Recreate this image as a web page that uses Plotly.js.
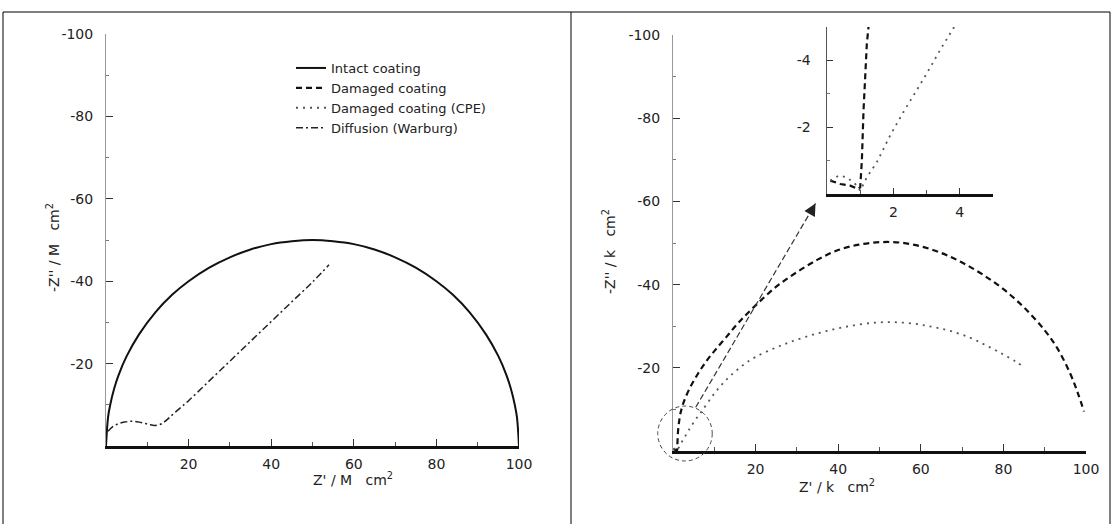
<!DOCTYPE html>
<html>
<head>
<meta charset="utf-8">
<script src="https://cdn.plot.ly/plotly-3.0.1.min.js"></script>
<style>
  html, body { margin: 0; padding: 0; background: #fff; }
  #chart { width: 1113px; height: 524px; }
</style>
</head>
<body>
<div id="chart"></div>
<script>
// Nyquist plots: Z' on x, Z'' (negative values) on a reversed y axis.

// Left panel (M-ohm cm^2)
const intactZre = [0, 0.5, 1, 2, 3, 5, 8, 12, 16, 20, 25, 30, 35, 40, 45, 50, 55, 60, 65, 70, 75, 80, 84, 88, 92, 95, 97, 98, 99, 99.5, 100];
const intactZim = [0, -7, -9.9, -14, -17.1, -21.8, -27.1, -32.5, -36.7, -40, -43.3, -45.8, -47.7, -49, -49.7, -50, -49.7, -49, -47.7, -45.8, -43.3, -40, -36.7, -32.5, -27.1, -21.8, -17.1, -14, -9.9, -7, 0];

const warburgZre = [0.5, 1.5, 3, 4.5, 6, 7.5, 9, 10.5, 11.8, 13.5, 15, 17, 20, 25, 30, 35, 40, 45, 50, 54];
const warburgZim = [-3.6, -4.6, -5.4, -5.8, -6, -5.9, -5.6, -5.2, -5, -5.4, -6.6, -8.4, -11, -15.8, -20.6, -25.4, -30.2, -35, -39.8, -44];

// Right panel (k-ohm cm^2)
const damagedZre = [0.1, 0.4, 0.7, 0.93, 1.0, 1.05, 1.1, 1.2, 1.4, 1.8, 2.5, 4, 6, 8, 10, 13, 16, 20, 25, 30, 35, 40, 45, 50, 55, 60, 65, 70, 75, 80, 85, 90, 93, 96, 98, 99.5];
const damagedZim = [-0.4, -0.3, -0.25, -0.15, -0.2, -1, -2.5, -4.5, -6.5, -9, -11.5, -15, -18.5, -21.5, -24, -27.5, -31, -35, -39.5, -43, -46, -48.3, -49.6, -50.2, -50.1, -49.2, -47.6, -45.3, -42.4, -38.9, -34.5, -29, -24.8, -19, -14, -9.5];

const cpeZre = [0.1, 0.35, 0.6, 0.85, 1.0, 1.2, 1.5, 1.9, 2.3, 2.7, 3.0, 3.4, 3.8, 4.5, 5.5, 7, 10, 13, 16.5, 20, 26, 33, 41, 49.6, 56.5, 62, 67, 72, 76, 80, 83, 84.5];
const cpeZim = [-0.4, -0.55, -0.5, -0.3, -0.1, -0.5, -0.95, -1.75, -2.45, -3.1, -3.6, -4.3, -5.0, -6.1, -7.6, -9.6, -13.8, -17.2, -20.3, -22.6, -25.3, -27.7, -29.7, -30.9, -30.8, -30, -28.9, -27.2, -25.3, -23.2, -21.5, -20.5];

// Tick values and labels
const mainXTicks = [20, 40, 60, 80, 100];
const mainXLabels = ['20', '40', '60', '80', '100'];
const mainYTicks = [-20, -40, -60, -80, -100];
const mainYLabels = ['-20', '-40', '-60', '-80', '-100'];
const insetXTicks = [2, 4];
const insetXLabels = ['2', '4'];
const insetYTicks = [-2, -4];
const insetYLabels = ['-2', '-4'];

// Magnified region marker and pointer (right panel data units)
const zoomCircle = { x: 2.9, y: -4.2, r: 6.6 };
const pointerFrom = [5.5, -10.5];
const pointerTo = [34.5, -59.5];

const seriesNames = ['Intact coating', 'Damaged coating', 'Damaged coating (CPE)', 'Diffusion (Warburg)'];

const FONT = 'DejaVu Sans, Verdana, sans-serif';
const TXT = '#222';
const W = 1113, H = 524;
const px = v => v / W;
const py = v => 1 - v / H;

const traces = [
  { x: intactZre, y: intactZim, xaxis: 'x', yaxis: 'y', name: seriesNames[0], mode: 'lines',
    line: { color: '#111', width: 2, shape: 'spline', smoothing: 1 } },
  { x: damagedZre, y: damagedZim, xaxis: 'x2', yaxis: 'y2', name: seriesNames[1], mode: 'lines',
    line: { color: '#111', width: 2.2, dash: '6px,4px', shape: 'spline', smoothing: 1 } },
  { x: cpeZre, y: cpeZim, xaxis: 'x2', yaxis: 'y2', name: seriesNames[2], mode: 'lines',
    line: { color: '#555', width: 1.8, dash: '2px,5px', shape: 'spline', smoothing: 1 } },
  { x: warburgZre, y: warburgZim, xaxis: 'x', yaxis: 'y', name: seriesNames[3], mode: 'lines',
    line: { color: '#222', width: 1.5, dash: '7px,3px,2px,3px', shape: 'spline', smoothing: 1 } },
  // magnified view of the origin
  { x: damagedZre, y: damagedZim, xaxis: 'x3', yaxis: 'y3', showlegend: false, mode: 'lines',
    line: { color: '#111', width: 2.2, dash: '6px,4px' } },
  { x: cpeZre, y: cpeZim, xaxis: 'x3', yaxis: 'y3', showlegend: false, mode: 'lines',
    line: { color: '#555', width: 1.8, dash: '2px,5px' } }
];

function mainX(domain, anchor) {
  return {
    domain: domain, anchor: anchor, range: [0, 100], fixedrange: true,
    showline: true, linecolor: '#111', linewidth: 2.5,
    showgrid: false, zeroline: false,
    ticks: 'inside', ticklen: 7, tickwidth: 1, tickcolor: '#333',
    tickmode: 'array', tickvals: mainXTicks, ticktext: mainXLabels,
    ticklabelstandoff: 4,
    minor: { dtick: 10, ticks: 'inside', ticklen: 4, tickcolor: '#555', showgrid: false },
    tickfont: { family: FONT, size: 14, color: TXT }
  };
}
function mainY(domain, anchor) {
  return {
    domain: domain, anchor: anchor, range: [0, -100], fixedrange: true,
    showline: true, linecolor: '#999', linewidth: 1,
    showgrid: false, zeroline: false,
    ticks: 'inside', ticklen: 7, tickwidth: 1, tickcolor: '#333',
    tickmode: 'array', tickvals: mainYTicks, ticktext: mainYLabels,
    ticklabelstandoff: 9,
    minor: { dtick: 10, ticks: 'inside', ticklen: 3, tickcolor: '#777', showgrid: false },
    tickfont: { family: FONT, size: 14, color: TXT }
  };
}

const insetXRange = [0, 5], insetYRange = [0, -5];

// circle in axis-domain fractions of the right panel (keeps it unclipped)
const xr2 = [0, 100], yr2 = [0, -100];
const fx = v => (v - xr2[0]) / (xr2[1] - xr2[0]);
const fy = v => (v - yr2[0]) / (yr2[1] - yr2[0]);

const lineShape = (x0, y0, x1, y1) => ({
  type: 'line', xref: 'paper', yref: 'paper', x0: px(x0), y0: py(y0), x1: px(x1), y1: py(y1),
  line: { color: '#000', width: 1 }
});

const titleFont = { family: FONT, size: 14, color: TXT };

const layout = {
  width: W, height: H,
  margin: { l: 0, r: 0, t: 0, b: 0 },
  paper_bgcolor: '#fff', plot_bgcolor: 'rgba(0,0,0,0)',
  font: { family: FONT, size: 14, color: TXT },
  showlegend: true,
  legend: {
    x: px(291), y: py(53), xanchor: 'left', yanchor: 'top',
    bgcolor: 'rgba(0,0,0,0)', borderwidth: 0,
    font: { family: FONT, size: 13, color: TXT },
    itemwidth: 30, tracegroupgap: 0
  },
  xaxis: mainX([px(106), px(519)], 'y'),
  yaxis: mainY([py(446), py(34)], 'x'),
  xaxis2: mainX([px(673), px(1086)], 'y2'),
  yaxis2: mainY([py(451), py(35)], 'x2'),
  xaxis3: {
    domain: [px(827), px(993)], anchor: 'y3', range: insetXRange, fixedrange: true,
    showline: true, linecolor: '#111', linewidth: 2.5, showgrid: false, zeroline: false,
    ticks: 'inside', ticklen: 6, tickwidth: 1, tickcolor: '#333',
    tickmode: 'array', tickvals: insetXTicks, ticktext: insetXLabels, ticklabelstandoff: 4,
    minor: { dtick: 1, ticks: 'inside', ticklen: 4, tickcolor: '#555', showgrid: false },
    tickfont: { family: FONT, size: 14, color: TXT }
  },
  yaxis3: {
    domain: [py(194), py(27)], anchor: 'x3', range: insetYRange, fixedrange: true,
    showline: true, linecolor: '#555', linewidth: 1.5, showgrid: false, zeroline: false,
    ticks: 'inside', ticklen: 6, tickwidth: 1, tickcolor: '#333',
    tickmode: 'array', tickvals: insetYTicks, ticktext: insetYLabels, ticklabelstandoff: 12,
    minor: { dtick: 1, ticks: 'inside', ticklen: 3, tickcolor: '#777', showgrid: false },
    tickfont: { family: FONT, size: 14, color: TXT }
  },
  shapes: [
    // frame around the two panels
    lineShape(3, 12, 1110, 12),
    lineShape(3, 12, 3, 524),
    lineShape(571, 12, 571, 524),
    lineShape(1110, 12, 1110, 524),
    // dashed ring around the magnified region
    {
      type: 'circle', xref: 'x2 domain', yref: 'y2 domain',
      x0: fx(zoomCircle.x - zoomCircle.r), x1: fx(zoomCircle.x + zoomCircle.r),
      y0: fy(zoomCircle.y + zoomCircle.r), y1: fy(zoomCircle.y - zoomCircle.r),
      line: { color: '#444', width: 1, dash: '4px,3px' }
    },
    // pointer shaft
    {
      type: 'line', xref: 'x2', yref: 'y2',
      x0: pointerFrom[0], y0: pointerFrom[1], x1: pointerTo[0], y1: pointerTo[1],
      line: { color: '#333', width: 1.2, dash: '6px,3px' }
    }
  ],
  annotations: [
    { xref: 'x2', yref: 'y2', x: pointerTo[0], y: pointerTo[1], text: '', showarrow: true,
      ax: -5, ay: 9, arrowhead: 2, arrowsize: 1.6, arrowwidth: 1.5, arrowcolor: '#222', standoff: 0 },
    { xref: 'paper', yref: 'paper', x: px(42), y: py(248), textangle: -90, showarrow: false,
      text: "-Z'' / M\u00a0\u00a0\u00a0cm<sup>2</sup>", font: titleFont },
    { xref: 'paper', yref: 'paper', x: px(311), y: py(490), showarrow: false,
      text: "Z' / M\u00a0\u00a0\u00a0cm<sup>2</sup>", font: titleFont },
    { xref: 'paper', yref: 'paper', x: px(609), y: py(252), textangle: -90, showarrow: false,
      text: "-Z'' / k\u00a0\u00a0\u00a0cm<sup>2</sup>", font: titleFont },
    { xref: 'paper', yref: 'paper', x: px(877), y: py(497), showarrow: false,
      text: "Z' / k\u00a0\u00a0\u00a0cm<sup>2</sup>", font: titleFont }
  ]
};

Plotly.newPlot('chart', traces, layout, { displayModeBar: false, staticPlot: true });
</script>
</body>
</html>
